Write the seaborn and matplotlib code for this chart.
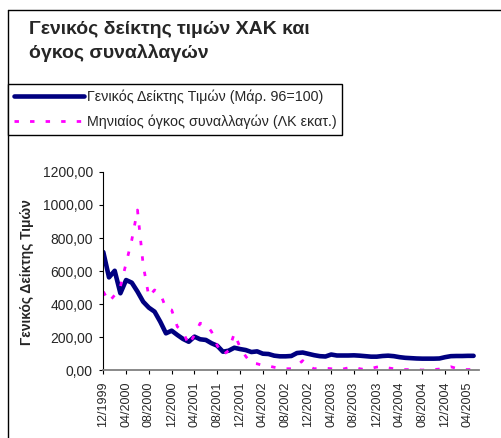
import numpy as np
import pandas as pd
import seaborn as sns
import matplotlib.pyplot as plt
from matplotlib.lines import Line2D
from matplotlib.ticker import FuncFormatter

# monthly values, 12/1999 .. 05/2005
index_values = [715, 562, 602, 466, 546, 530, 476, 415, 379, 355, 294, 224,
                240, 214, 190, 173, 204, 188, 184, 164, 149, 113, 119, 137,
                129, 123, 111, 115, 101, 99, 89, 85, 85, 87, 105, 108,
                100, 92, 86, 84, 96, 90, 90, 90, 91, 89, 86, 83,
                83, 87, 89, 86, 80, 76, 74, 72, 71, 71, 71, 72,
                80, 86, 87, 87, 88, 88]
volume_values = [476, 415, 455, 506, 647, 788, 969, 637, 445, 486, 466, 375,
                 365, 264, 234, 153, 214, 285, 280, 234, 150, 93, 120, 224,
                 140, 85, 43, 40, 30, 27, 19, 12, 10, 10, 30, 59,
                 25, 10, 12, 13, 10, 5, 8, 15, 20, 10, 5, 12,
                 20, 25, 15, 10, 8, 5, 5, 4, 2, 4, 5, 8,
                 15, 22, 12, 6, 5, 6]
tick_labels = ["12/1999", "04/2000", "08/2000", "12/2000", "04/2001", "08/2001",
               "12/2001", "04/2002", "08/2002", "12/2002", "04/2003", "08/2003",
               "12/2003", "04/2004", "08/2004", "12/2004", "04/2005"]
y_ticks = [0, 200, 400, 600, 800, 1000, 1200]

label_index = "Γενικός Δείκτης Τιμών (Μάρ. 96=100)"
label_volume = "Μηνιαίος όγκος συναλλαγών (ΛΚ εκατ.)"

df = pd.DataFrame({"month": np.arange(len(index_values)),
                   "index": index_values,
                   "volume": volume_values})

sns.set_style("white")
plt.rcParams['font.family'] = ['Liberation Sans', 'DejaVu Sans']

fig = plt.figure(figsize=(5.01, 4.38), dpi=100)
ax = fig.add_axes([103.3 / 501, 1 - 370.4 / 438, 376 / 501, 198.6 / 438])

sns.lineplot(data=df, x="month", y="index", ax=ax, color="#000080",
             linewidth=3.3, solid_capstyle="round", label=label_index)
sns.lineplot(data=df, x="month", y="volume", ax=ax, color="#FF00FF",
             linewidth=2.0, linestyle=(0, (1.6, 4.0)), label=label_volume)

ax.set_xlim(0, 66)
ax.set_ylim(0, 1200)
ax.set_xticks(np.arange(0, 4 * len(tick_labels), 4))
ax.set_xticklabels(tick_labels, rotation=90, fontsize=9)
ax.set_yticks(y_ticks)
ax.yaxis.set_major_formatter(FuncFormatter(lambda v, p: f"{v:.2f}".replace(".", ",")))
ax.tick_params(axis="y", labelsize=10, direction="out", length=3, width=0.8,
               color="black", pad=4.5, left=True)
ax.tick_params(axis="x", direction="out", length=3, width=0.8,
               color="black", pad=5, bottom=True)
ax.set_xlabel("")
ax.set_ylabel("Γενικός Δείκτης Τιμών", fontsize=10, fontweight="bold")
ax.yaxis.set_label_coords(-0.185, 0.495)

for side in ["top", "right"]:
    ax.spines[side].set_visible(False)
ax.spines["left"].set_color("black")
ax.spines["left"].set_linewidth(0.8)
ax.spines["bottom"].set_color("#808080")
ax.spines["bottom"].set_linewidth(1.3)
ax.patch.set_alpha(0)

ax.legend_.remove()
handles, labels = ax.get_legend_handles_labels()
leg = fig.legend(handles, labels, loc="upper left",
                 bbox_to_anchor=(8 / 501, 1 - 84 / 438), borderaxespad=0,
                 fontsize=10.3, handlelength=4.9, handletextpad=0.2,
                 borderpad=0.4, labelspacing=0.72, fancybox=False,
                 framealpha=1, edgecolor="black")
leg.get_frame().set_linewidth(1.0)

fig.text(29 / 501, 1 - 21 / 438, "Γενικός δείκτης τιμών ΧΑΚ και\nόγκος συναλλαγών",
         fontsize=14, fontweight="bold", ha="left", va="top", linespacing=1.45)

# outer chart frame: only its left and top edges fall inside the image
fx, fy = 8 / 501, 1 - 10 / 438
fig.add_artist(Line2D([fx, fx], [0, fy], transform=fig.transFigure,
                      color="black", linewidth=1.0))
fig.add_artist(Line2D([fx, 1], [fy, fy], transform=fig.transFigure,
                      color="black", linewidth=1.0))

fig.savefig("out.png", dpi=100)
